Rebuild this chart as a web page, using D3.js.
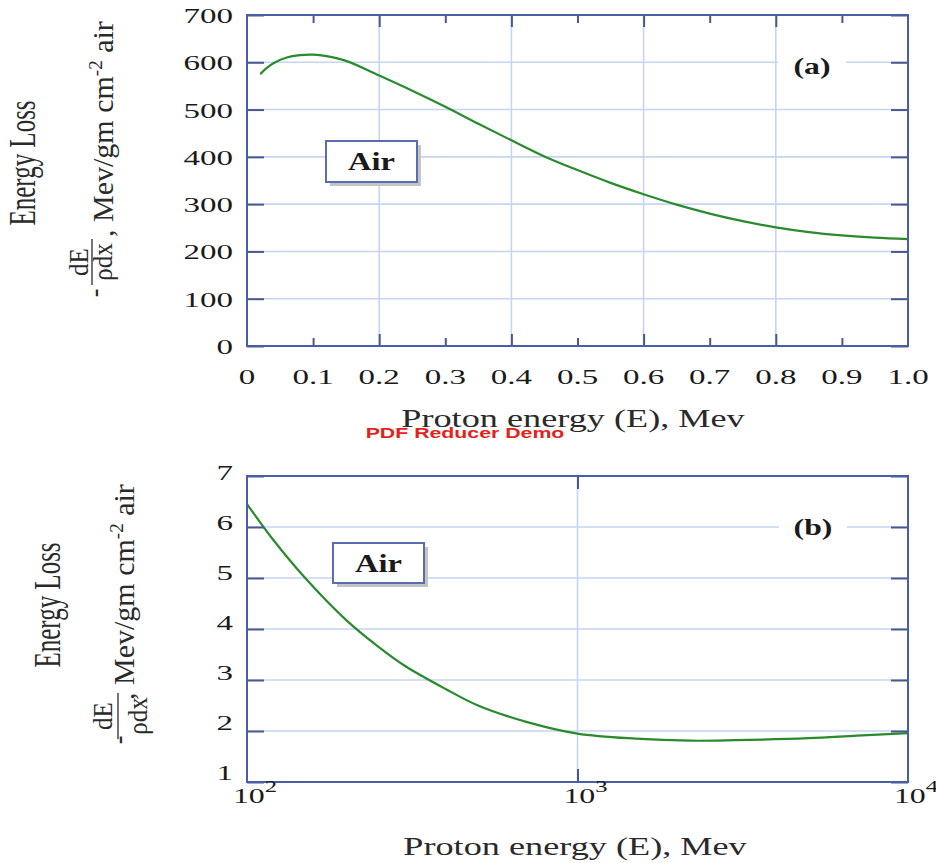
<!DOCTYPE html>
<html>
<head>
<meta charset="utf-8">
<script src="https://cdn.jsdelivr.net/npm/d3@7"></script>
<style>
  html, body { margin: 0; padding: 0; background: #ffffff; }
  svg { display: block; }
</style>
</head>
<body>
<script>
// ---------------- DATA ----------------
// Panel (a): low-energy protons in air
const energyA = [0.02, 0.03, 0.04, 0.06, 0.08, 0.10, 0.12, 0.15, 0.20, 0.25, 0.30, 0.35, 0.40, 0.45, 0.50, 0.55, 0.60, 0.65, 0.70, 0.75, 0.80, 0.85, 0.90, 0.95, 1.00];
const lossA   = [575, 588, 598, 610, 615, 616, 613, 603, 572, 540, 506, 470, 435, 401, 372, 345, 321, 299, 280, 264, 251, 241, 234, 229, 226];
const xTicksA = [0, 0.1, 0.2, 0.3, 0.4, 0.5, 0.6, 0.7, 0.8, 0.9, 1.0];
const xTickLabelsA = ["0", "0.1", "0.2", "0.3", "0.4", "0.5", "0.6", "0.7", "0.8", "0.9", "1.0"];
const xGridA = [0.2, 0.4, 0.6, 0.8];
const yTicksA = [0, 100, 200, 300, 400, 500, 600, 700];

// Panel (b): high-energy protons in air
const energyB = [100, 120, 150, 200, 250, 300, 400, 500, 700, 1000, 1500, 2200, 3000, 5000, 7000, 10000];
const lossB   = [6.45, 5.75, 5.0, 4.17, 3.65, 3.28, 2.82, 2.5, 2.18, 1.95, 1.85, 1.81, 1.82, 1.86, 1.91, 1.96];
const xTicksB = [100, 1000, 10000];
const xTickExpB = ["2", "3", "4"];
const xGridB = [1000];
const yTicksB = [1, 2, 3, 4, 5, 6, 7];

const xTitle = "Proton energy (E), Mev";
const yTitle1 = "Energy Loss";
const panelLabels = ["(a)", "(b)"];
const boxLabel = "Air";
const watermark = "PDF Reducer Demo";

// ---------------- STYLE ----------------
const W = 936, H = 863;
const FRAME = "#4a5ea6", GRID = "#c6d5f0", CURVE = "#2a8a2e", TICK = "#47598f";
const SERIF = "'Liberation Serif', 'Times New Roman', serif";
const SX = 1.48;

const svg = d3.select("body").append("svg").attr("width", W).attr("height", H);
svg.append("rect").attr("width", W).attr("height", H).attr("fill", "#fff");

function sText(g, x, y, txt, o = {}) {
  const t = g.append("text")
    .attr("transform", `translate(${x},${y}) scale(${o.sx ?? SX},1)${o.rot ? " rotate(-90)" : ""}`)
    .attr("text-anchor", o.anchor || "middle")
    .attr("font-family", o.family || SERIF)
    .attr("font-size", o.size || 22)
    .attr("font-weight", o.weight || "normal")
    .attr("fill", o.fill || "#1a1a1a");
  if (txt !== null) t.text(txt);
  return t;
}

function panel(cfg) {
  const g = svg.append("g");
  const x = cfg.x, y = cfg.y;
  const [x0, x1] = x.range(), [y0, y1] = y.range();

  g.selectAll(".vg").data(cfg.xGrid).join("line")
    .attr("x1", d => x(d)).attr("x2", d => x(d)).attr("y1", y1).attr("y2", y0)
    .attr("stroke", GRID).attr("stroke-width", 1.6);
  g.selectAll(".hg").data(cfg.yTicks.slice(1, -1)).join("line")
    .attr("x1", x0).attr("x2", x1).attr("y1", d => y(d)).attr("y2", d => y(d))
    .attr("stroke", GRID).attr("stroke-width", 1.6);

  g.append("rect").attr("x", cfg.lab.x - 34).attr("y", cfg.lab.y - 19).attr("width", 68).attr("height", 26).attr("fill", "#fff");
  sText(g, cfg.lab.x, cfg.lab.y, cfg.label, { size: 23, weight: "bold", sx: 1.38 });

  const b = cfg.box;
  g.append("rect").attr("x", b.x + 4).attr("y", b.y + 4).attr("width", b.w).attr("height", b.h).attr("fill", "#c4c4c4");
  g.append("rect").attr("x", b.x).attr("y", b.y).attr("width", b.w).attr("height", b.h)
    .attr("fill", "#fff").attr("stroke", "#5a6db0").attr("stroke-width", 2);
  sText(g, b.x + b.w / 2, b.y + 29, boxLabel, { size: 25, weight: "bold", sx: 1.3 });

  const line = d3.line().x(d => x(d[0])).y(d => y(d[1])).curve(d3.curveCatmullRom.alpha(0.5));
  g.append("path").datum(d3.zip(cfg.ex, cfg.ey)).attr("d", line)
    .attr("fill", "none").attr("stroke", CURVE).attr("stroke-width", 2.2);

  const styleAxis = sel => {
    sel.select(".domain").remove();
    sel.selectAll(".tick line").attr("stroke", TICK).attr("stroke-width", 2);
    sel.selectAll(".tick text").remove();
  };
  cfg.xTickSets.forEach(ts => {
    g.append("g").attr("transform", `translate(0,${y0})`)
      .call(d3.axisBottom(x).tickValues(ts.v).tickSize(-ts.len).tickFormat(""))
      .call(styleAxis);
    g.append("g").attr("transform", `translate(0,${y1})`)
      .call(d3.axisTop(x).tickValues(ts.v).tickSize(-ts.len).tickFormat(""))
      .call(styleAxis);
  });
  g.append("g").attr("transform", `translate(${x0},0)`)
    .call(d3.axisLeft(y).tickValues(cfg.yTicks).tickSize(-17).tickFormat("")).call(styleAxis);
  g.append("g").attr("transform", `translate(${x1},0)`)
    .call(d3.axisRight(y).tickValues(cfg.yTicks).tickSize(-17).tickFormat("")).call(styleAxis);

  g.append("rect").attr("x", x0).attr("y", y1).attr("width", x1 - x0).attr("height", y0 - y1)
    .attr("fill", "none").attr("stroke", FRAME).attr("stroke-width", 2);

  const ly = cfg.yLabel || y;
  cfg.yTicks.forEach(v => sText(g, 233, ly(v) + 8, cfg.yFmt(v), { size: 22, anchor: "end", sx: 1.5 }));
  return g;
}

// ---------- Panel (a) ----------
const xA = d3.scaleLinear().domain([0, 1]).range([247, 908]);
const yA = d3.scaleLinear().domain([0, 700]).range([346, 15]);
const gA = panel({
  x: xA, y: yA, ex: energyA, ey: lossA, xGrid: xGridA, yTicks: yTicksA,
  label: panelLabels[0], lab: { x: 812, y: 74 },
  box: { x: 326, y: 141, w: 91, h: 41 },
  xTickSets: [{ v: [0.2, 0.4, 0.6, 0.8], len: 12 }, { v: [0.1, 0.3, 0.5, 0.7, 0.9], len: 8 }],
  yFmt: d3.format("d")
});
xTicksA.forEach((v, i) => sText(gA, xA(v), 384, xTickLabelsA[i], { size: 22, sx: 1.5 }));
sText(gA, 573, 427, xTitle, { size: 25, sx: 1.45, fill: "#2a2a2a" });

// ---------- Panel (b) ----------
const xB = d3.scaleLog().domain([100, 10000]).range([247, 908]);
const yB = d3.scaleLinear().domain([1, 7]).range([782, 476]);
const yBLabel = d3.scaleLinear().domain([1, 7]).range([772, 472]);
const gB = panel({
  x: xB, y: yB, yLabel: yBLabel, ex: energyB, ey: lossB, xGrid: xGridB, yTicks: yTicksB,
  label: panelLabels[1], lab: { x: 813, y: 535 },
  box: { x: 333, y: 543, w: 91, h: 40 },
  xTickSets: [{ v: [1000], len: 13 }],
  yFmt: d3.format("d")
});
xTicksB.forEach((v, i) => {
  const t = sText(gB, xB(v) + 8, 803, null, { size: 22, sx: 1.45 });
  t.append("tspan").text("10");
  t.append("tspan").attr("dy", -11).attr("font-size", 17).text(xTickExpB[i]);
});
sText(gB, 575, 855, xTitle, { size: 25, sx: 1.45, fill: "#2a2a2a" });

// ---------- Y-axis titles ----------
function yTitle(o) {
  const g = svg.append("g");
  sText(g, o.bx1, o.cy1, yTitle1, { size: 25, rot: true, fill: "#2a2a2a" });
  sText(g, o.mx, o.my, "-", { size: 26, rot: true, sx: 1.1, fill: "#2a2a2a" });
  sText(g, o.dEx, o.fy, "dE", { size: 25, rot: true, sx: 1.1, fill: "#2a2a2a" });
  g.append("line").attr("x1", o.barx).attr("x2", o.barx).attr("y1", o.fy - 23).attr("y2", o.fy + 23)
    .attr("stroke", "#2a2a2a").attr("stroke-width", 1.3);
  sText(g, o.rdx, o.fy, "ρdx", { size: 25, rot: true, sx: 1.1, fill: "#2a2a2a" });
  const t = sText(g, o.ux, o.uy, null, { size: 30, rot: true, sx: 1.0, anchor: "start", fill: "#2a2a2a" });
  t.append("tspan").text(", Mev/gm cm");
  t.append("tspan").attr("dy", -11).attr("font-size", 19).text("-2");
  t.append("tspan").attr("dy", 11).text(" air");
}
yTitle({ bx1: 35, cy1: 163, mx: 104, my: 293, dEx: 88, barx: 92, rdx: 112, fy: 262, ux: 113, uy: 237 });
yTitle({ bx1: 60, cy1: 605, mx: 128, my: 740, dEx: 112, barx: 118, rdx: 147, fy: 716, ux: 134, uy: 700 });

// ---------- watermark ----------
sText(svg, 465, 438, watermark, { size: 15, weight: "bold", sx: 1.42, family: "'Liberation Sans', Arial, sans-serif", fill: "#e3231b" });
</script>
</body>
</html>
